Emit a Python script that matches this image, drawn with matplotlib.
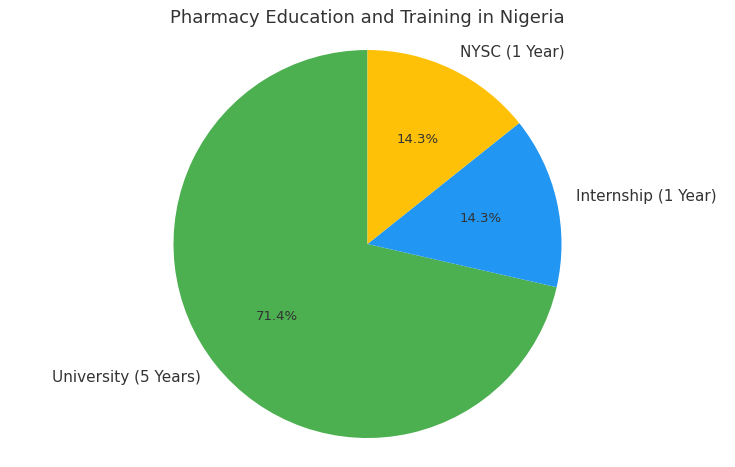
import matplotlib.pyplot as plt

# data
stages = ['University (5 Years)', 'Internship (1 Year)', 'NYSC (1 Year)']
years = [5, 1, 1]
colors = ['#4CAF50', '#2196F3', '#FFC107']

plt.rcParams['font.family'] = 'DejaVu Sans'
plt.rcParams['text.color'] = '#333333'

fig = plt.figure(figsize=(7.35, 4.67), dpi=100)
ax = fig.add_axes([0.0, 0.062, 1.0, 0.831])

wedges, texts, autotexts = ax.pie(years, labels=stages, colors=colors,
                                  autopct='%1.1f%%', startangle=90,
                                  textprops={'fontsize': 11, 'color': '#333333'})
for t in autotexts:
    t.set_fontsize(9.5)

# pie fills the axes height, like the original
ax.set_aspect('equal', adjustable='box')
ax.set_ylim(-1, 1)
ax.set_xlim(-735 / 388, 735 / 388)

fig.text(0.5, 0.961, 'Pharmacy Education and Training in Nigeria',
         ha='center', va='center', fontsize=13, color='#333333')

fig.savefig('out.png', dpi=100)
